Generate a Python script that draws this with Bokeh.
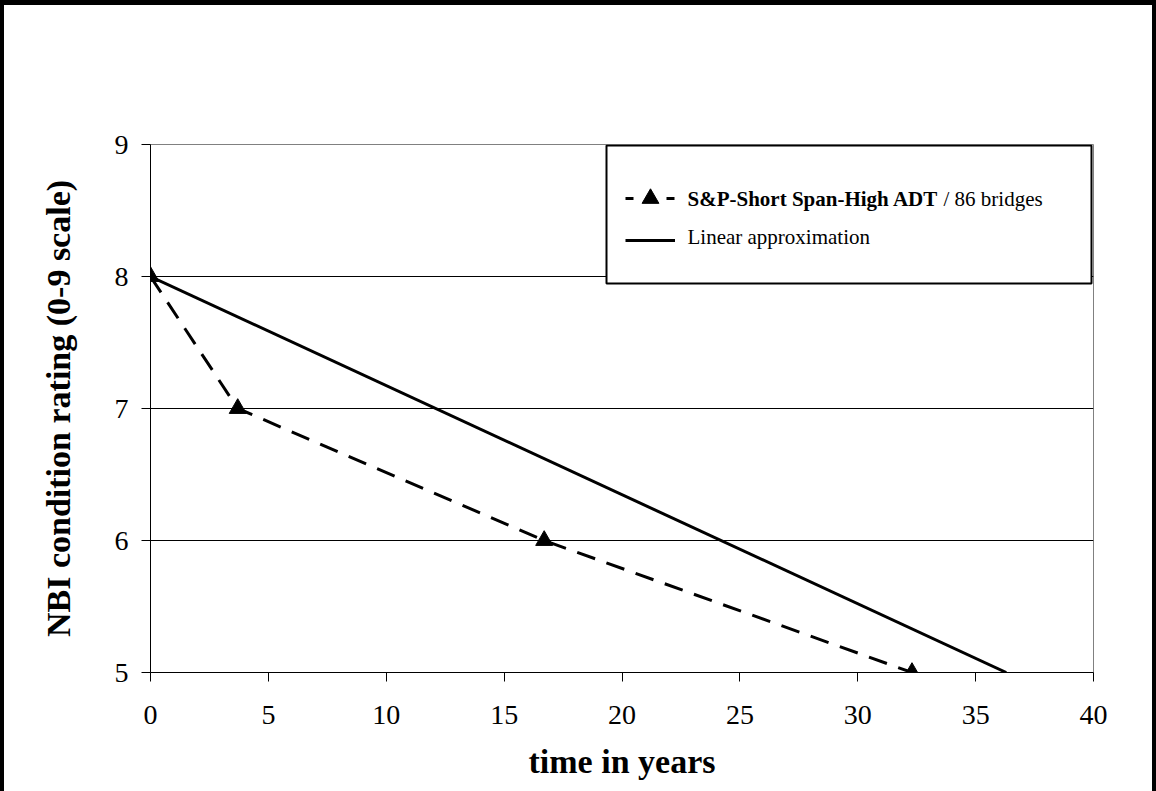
from bokeh.plotting import figure
from bokeh.models import Range1d, FixedTicker, Legend, LegendItem, Label, BoxAnnotation
from bokeh.embed import file_html
from bokeh.resources import INLINE

# ---- data ----
time_years = [0, 3.7, 16.7, 32.3]
condition_rating = [8, 7, 6, 5]
linear_time = [0, 36.3]
linear_rating = [8, 5]
x_ticks = [0, 5, 10, 15, 20, 25, 30, 35, 40]
y_ticks = [5, 6, 7, 8, 9]
series_name = "S&P-Short Span-High ADT"
series_note = "/ 86 bridges"
linear_name = "Linear approximation"
x_title = "time in years"
y_title = "NBI condition rating (0-9 scale)"

FONT = "Liberation Serif"

p = figure(width=1156, height=791,
           x_range=Range1d(0, 40), y_range=Range1d(5, 9),
           output_backend="svg", toolbar_location=None,
           min_border_left=150, min_border_right=63,
           min_border_top=144, min_border_bottom=119)
p.title.visible = False
p.styles = {"box-shadow": "inset 4px 5px 0 0 black, inset -4px 0 0 0 black"}

p.outline_line_color = "#808080"
p.outline_line_width = 1
p.background_fill_color = "white"
p.border_fill_alpha = 0

p.xgrid.visible = False
p.ygrid.grid_line_color = "black"
p.ygrid.grid_line_width = 1
p.ygrid.ticker = FixedTicker(ticks=y_ticks)

p.xaxis.ticker = FixedTicker(ticks=x_ticks)
p.yaxis.ticker = FixedTicker(ticks=y_ticks)
for ax in (p.xaxis[0], p.yaxis[0]):
    ax.axis_line_color = "black"
    ax.major_tick_line_color = "black"
    ax.minor_tick_line_color = None
    ax.major_tick_in = 0
    ax.major_tick_out = 9
    ax.major_label_text_font = FONT
    ax.major_label_text_font_size = "28px"
    ax.major_label_text_color = "black"
    ax.axis_label_text_font = FONT
    ax.axis_label_text_font_size = "34px"
    ax.axis_label_text_font_style = "bold"
    ax.axis_label_text_color = "black"
p.xaxis.axis_label = x_title
p.yaxis.axis_label = y_title
p.xaxis.major_label_standoff = 24
p.yaxis.major_label_standoff = 13
p.xaxis.axis_label_standoff = 16
p.yaxis.axis_label_standoff = 35

# ---- data marks ----
p.line(linear_time, linear_rating, line_color="black", line_width=3)
p.line(time_years, condition_rating, line_color="black", line_width=3, line_dash="19 12")
p.scatter(time_years, condition_rating, marker="triangle", size=17,
          fill_color="black", line_color="black")

# ---- legend (box, samples, text) ----
box = BoxAnnotation(left=456, right=941, bottom=389, top=527,
                    left_units="screen", right_units="screen",
                    top_units="screen", bottom_units="screen",
                    fill_color="white", fill_alpha=1.0,
                    line_color="black", line_width=2, line_alpha=1.0)
p.add_layout(box)

# hidden proxies: used only for the legend samples
proxy_dash = p.line(time_years, condition_rating, line_color="black", line_width=3,
                    line_dash="8 33", visible=False)
proxy_tri = p.scatter(time_years, condition_rating, marker="triangle",
                      fill_color="black", line_color="black", visible=False)
proxy_solid = p.line(linear_time, linear_rating, line_color="black", line_width=3,
                     visible=False)

legend = Legend(items=[LegendItem(label=" ", renderers=[proxy_dash, proxy_tri]),
                       LegendItem(label=" ", renderers=[proxy_solid])],
                location=(475, 411), glyph_width=50, glyph_height=42,
                label_height=42, label_width=1, spacing=0, padding=0, margin=0,
                label_standoff=0, border_line_color=None,
                background_fill_alpha=0, label_text_font_size="1px")
p.add_layout(legend)

common = dict(x_units="screen", y_units="screen", text_font=FONT,
              text_font_size="21px", text_baseline="middle", text_color="black")
p.add_layout(Label(x=537, y=474, text=series_name, text_font_style="bold", **common))
p.add_layout(Label(x=793, y=474, text=series_note, **common))
p.add_layout(Label(x=537, y=436, text=linear_name, **common))

open("out.html", "w").write(file_html(p, INLINE))
